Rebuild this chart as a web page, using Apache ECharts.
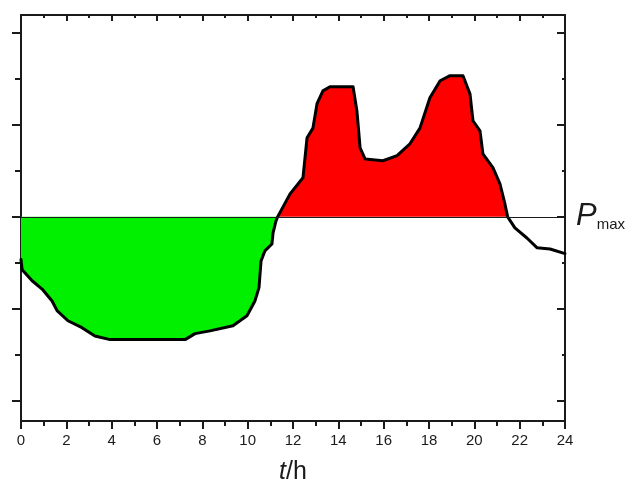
<!DOCTYPE html>
<html>
<head>
<meta charset="utf-8">
<style>
  html, body { margin: 0; padding: 0; background: #fff; }
  #chart { width: 627px; height: 483px; }
</style>
<script src="https://cdn.jsdelivr.net/npm/echarts@6/dist/echarts.min.js"></script>
</head>
<body>
<div id="chart"></div>
<script>
// time (h) and load relative to Pmax (in tick units)
var hours = [0, 0.05, 0.49, 0.93, 1.37, 1.59, 2.07, 2.69, 3.26, 3.93, 7.24, 7.68, 8.34, 9.35, 9.97,
  10.32, 10.5, 10.59, 10.76, 11.07, 11.12, 11.25, 11.32, 11.87, 12.44, 12.62, 12.88, 13.06, 13.32,
  13.63, 14.65, 14.82, 14.87, 14.96, 15.18, 15.97, 16.59, 17.16, 17.6, 18.04, 18.49, 18.93, 19.5,
  19.81, 19.94, 20.25, 20.38, 20.82, 21.13, 21.35, 21.47, 21.79, 22.32, 22.76, 23.34, 24];
var power = [-0.93, -1.15, -1.39, -1.57, -1.83, -2.04, -2.26, -2.41, -2.59, -2.67, -2.67, -2.54, -2.48, -2.37, -2.15,
  -1.83, -1.54, -0.96, -0.74, -0.59, -0.35, -0.09, 0, 0.5, 0.85, 1.72, 1.93, 2.46, 2.74,
  2.83, 2.83, 2.3, 2.02, 1.5, 1.26, 1.22, 1.33, 1.59, 1.93, 2.59, 2.96, 3.07, 3.07,
  2.67, 2.09, 1.87, 1.37, 1.07, 0.72, 0.28, 0, -0.24, -0.46, -0.67, -0.7, -0.8];
var pmax = 0;
var xTicks = [0, 24, 2];          // min, max, step of labelled hours
var yMajor = [-4, -2, 0, 2, 4];
var yMinor = [-3, -1, 1, 3];

var pts = hours.map(function (t, i) { return [t, power[i]]; });
var cross1 = 11.32, cross2 = 21.47;
var under = pts.filter(function (p) { return p[0] <= cross1; });
var over = pts.filter(function (p) { return p[0] >= cross1 && p[0] <= cross2; });

var ink = "#1a1a1a";
var yMin = -4.44, yMax = 4.39;

function yAx(pos, vals, len, inside, line) {
  return {
    type: "value", min: yMin, max: yMax, position: pos,
    axisLine: { show: line, onZero: false, lineStyle: { color: ink, width: 2 } },
    axisTick: { show: true, inside: inside, length: len, customValues: vals, lineStyle: { color: ink, width: 2 } },
    axisLabel: { show: false },
    splitLine: { show: false }
  };
}

var chart = echarts.init(document.getElementById("chart"));
chart.setOption({
  animation: false,
  backgroundColor: "#fff",
  grid: { left: 21, right: 62, top: 15, bottom: 62, outerBoundsMode: "none", containLabel: false },
  xAxis: [
    {
      type: "value", min: xTicks[0], max: xTicks[1], interval: xTicks[2], position: "bottom",
      axisLine: { onZero: false, lineStyle: { color: ink, width: 2 } },
      axisTick: { inside: false, length: 8, lineStyle: { color: ink, width: 2 } },
      minorTick: { show: true, splitNumber: 2, length: 5, lineStyle: { color: ink, width: 2 } },
      splitLine: { show: false },
      axisLabel: { color: ink, fontSize: 15, fontFamily: "Liberation Sans, Arial", margin: 12 },
      name: "{i|t}{n|/h}",
      nameLocation: "middle",
      nameGap: 39,
      nameTextStyle: {
        rich: {
          i: { fontSize: 25, fontStyle: "italic", color: ink, fontFamily: "Liberation Sans, Arial" },
          n: { fontSize: 25, color: ink, fontFamily: "Liberation Sans, Arial" }
        }
      }
    },
    {
      type: "value", min: xTicks[0], max: xTicks[1], interval: xTicks[2], position: "top",
      axisLine: { onZero: false, lineStyle: { color: ink, width: 2 } },
      axisTick: { inside: true, length: 6, lineStyle: { color: ink, width: 2 } },
      minorTick: { show: true, splitNumber: 2, length: 3, lineStyle: { color: ink, width: 2 } },
      splitLine: { show: false },
      axisLabel: { show: false }
    }
  ],
  yAxis: [
    yAx("left", yMajor, 9, false, true),
    yAx("left", yMinor, 6, false, false),
    yAx("right", yMajor, 8, true, true),
    yAx("right", yMinor, 3, true, false)
  ],
  series: [
    {
      type: "line", data: under, symbol: "none",
      lineStyle: { width: 0 },
      areaStyle: { color: "#00f000", opacity: 1, origin: "auto" }
    },
    {
      type: "line", data: over, symbol: "none",
      lineStyle: { width: 0 },
      areaStyle: { color: "#ff0000", opacity: 1, origin: "auto" }
    },
    {
      type: "line", data: [], symbol: "none",
      markLine: {
        silent: true, symbol: "none",
        lineStyle: { color: ink, width: 1, type: "solid" },
        label: {
          position: "end", distance: 11,
          formatter: "{p|P}{s|max}",
          rich: {
            p: { fontSize: 31, fontStyle: "italic", color: ink, fontFamily: "Liberation Sans, Arial", verticalAlign: "bottom" },
            s: { fontSize: 15, color: ink, fontFamily: "Liberation Sans, Arial", verticalAlign: "bottom" }
          }
        },
        data: [{ yAxis: pmax }]
      }
    },
    {
      type: "line", data: pts, symbol: "none",
      lineStyle: { color: "#000", width: 3, join: "round", cap: "round" }
    }
  ]
});
</script>
</body>
</html>
